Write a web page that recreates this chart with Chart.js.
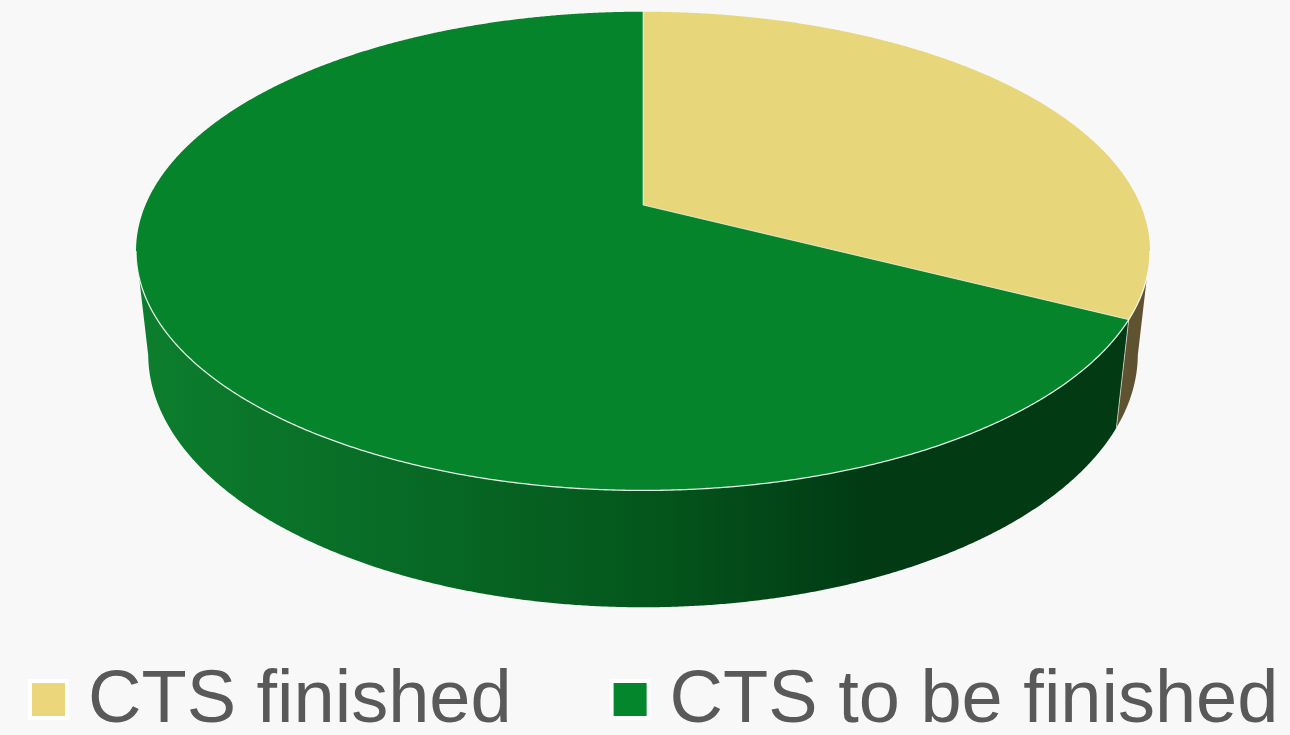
<!DOCTYPE html>
<html>
<head>
<meta charset="utf-8">
<script src="https://cdn.jsdelivr.net/npm/chart.js@4.4.0/dist/chart.umd.min.js"></script>
<style>
  html, body { margin: 0; padding: 0; background: #f8f8f8; }
  #wrap { width: 1290px; height: 735px; }
</style>
</head>
<body>
<div id="wrap"><canvas id="ctsChart"></canvas></div>
<script>
const labels = ['CTS finished', 'CTS to be finished'];
const shares = [32.5, 67.5];

const topColors = ['#e8d67b', '#05842c'];
const legendColors = ['#ebd67c', '#04862d'];
// side wall shading, left to right
const sideStops = [
    [[0, '#7a6a3a'], [1, '#5f5230']],
    [[0, '#0c7d2d'], [0.3, '#076724'], [0.5, '#04561c'], [0.72, '#013a13'], [1, '#023b13']]
];

// camera for the tilted disc
const view = { cx: 643, cy: 205, scale: 497.5, tilt: 27.6, dist: 4.605, depth: 0.2357 };

function project(theta, r, z) {
    const a = view.tilt * Math.PI / 180;
    const s = r * Math.sin(theta);
    const t = r * Math.cos(theta);
    const v = t * Math.sin(a) + z * Math.cos(a);
    const d = t * Math.cos(a) - z * Math.sin(a);
    const w = 1 + d / view.dist;
    return [view.cx + view.scale * s / w, view.cy - view.scale * v / w];
}

function arcPath(ctx, from, to, z, moveFirst) {
    const step = Math.PI / 720;
    const n = Math.max(2, Math.ceil(Math.abs(to - from) / step));
    for (let i = 0; i <= n; i++) {
        const p = project(from + (to - from) * i / n, 1, z);
        if (i === 0 && moveFirst) ctx.moveTo(p[0], p[1]);
        else ctx.lineTo(p[0], p[1]);
    }
}

const pie3d = {
    id: 'pie3d',
    beforeDatasetsDraw(chart) {
        const ctx = chart.ctx;
        const arcs = chart.getDatasetMeta(0).data;
        const k = Math.cos(view.tilt * Math.PI / 180) / view.dist;
        const frontRight = Math.acos(-k);
        const frontLeft = 2 * Math.PI - frontRight;
        const h = view.depth;

        const slices = arcs.map(a => [a.startAngle + Math.PI / 2, a.endAngle + Math.PI / 2]);

        ctx.save();
        // side walls
        slices.forEach(([a1, a2], i) => {
            const lo = Math.max(a1, frontRight);
            const hi = Math.min(a2, frontLeft);
            if (hi <= lo) return;
            const grad = ctx.createLinearGradient(150, 0, 1150, 0);
            sideStops[i].forEach(([o, c]) => grad.addColorStop(o, c));
            ctx.beginPath();
            arcPath(ctx, lo, hi, 0, true);
            arcPath(ctx, hi, lo, -h, false);
            ctx.closePath();
            ctx.fillStyle = grad;
            ctx.fill();
        });

        // top faces
        const c = project(0, 0, 0);
        slices.forEach(([a1, a2], i) => {
            ctx.beginPath();
            ctx.moveTo(c[0], c[1]);
            arcPath(ctx, a1, a2, 0, false);
            ctx.closePath();
            ctx.fillStyle = topColors[i];
            ctx.fill();
        });

        // light rim where top meets side, and slice seams
        ctx.strokeStyle = 'rgba(255,255,255,0.85)';
        ctx.lineWidth = 1.3;
        ctx.beginPath();
        arcPath(ctx, frontRight, frontLeft, 0, true);
        ctx.stroke();
        ctx.lineWidth = 1;
        ctx.strokeStyle = 'rgba(255,255,255,0.6)';
        slices.forEach(([a1]) => {
            const p = project(a1, 1, 0);
            ctx.beginPath();
            ctx.moveTo(c[0], c[1]);
            ctx.lineTo(p[0], p[1]);
            ctx.stroke();
            const b = project(a1, 1, -h);
            if (a1 > frontRight && a1 < frontLeft) {
                ctx.beginPath();
                ctx.moveTo(p[0], p[1]);
                ctx.lineTo(b[0], b[1]);
                ctx.stroke();
            }
        });
        ctx.restore();
        return false;
    },
    afterDraw(chart) {
        const ctx = chart.ctx;
        ctx.save();
        ctx.font = '74px "Liberation Sans", Arial, sans-serif';
        ctx.textBaseline = 'alphabetic';
        let x = 32;
        const box = 33, boxTop = 683, baseline = 722;
        chart.data.labels.forEach((label, i) => {
            ctx.fillStyle = '#ffffff';
            ctx.fillRect(x - 4, boxTop - 4, box + 8, box + 8);
            ctx.fillStyle = legendColors[i];
            ctx.fillRect(x, boxTop, box, box);
            ctx.fillStyle = '#595959';
            ctx.fillText(label, x + box + 23, baseline);
            x += box + 23 + ctx.measureText(label).width + 102;
        });
        ctx.restore();
    }
};

const ctx = document.getElementById('ctsChart').getContext('2d');
const ctsChart = new Chart(ctx, {
    type: 'pie',
    data: {
        labels: labels,
        datasets: [{
            data: shares,
            backgroundColor: topColors,
            borderWidth: 0
        }]
    },
    options: {
        responsive: true,
        maintainAspectRatio: false,
        animation: false,
        events: [],
        layout: { padding: { bottom: 100 } },
        plugins: {
            legend: { display: false },
            tooltip: { enabled: false }
        }
    },
    plugins: [pie3d]
});
</script>
</body>
</html>
